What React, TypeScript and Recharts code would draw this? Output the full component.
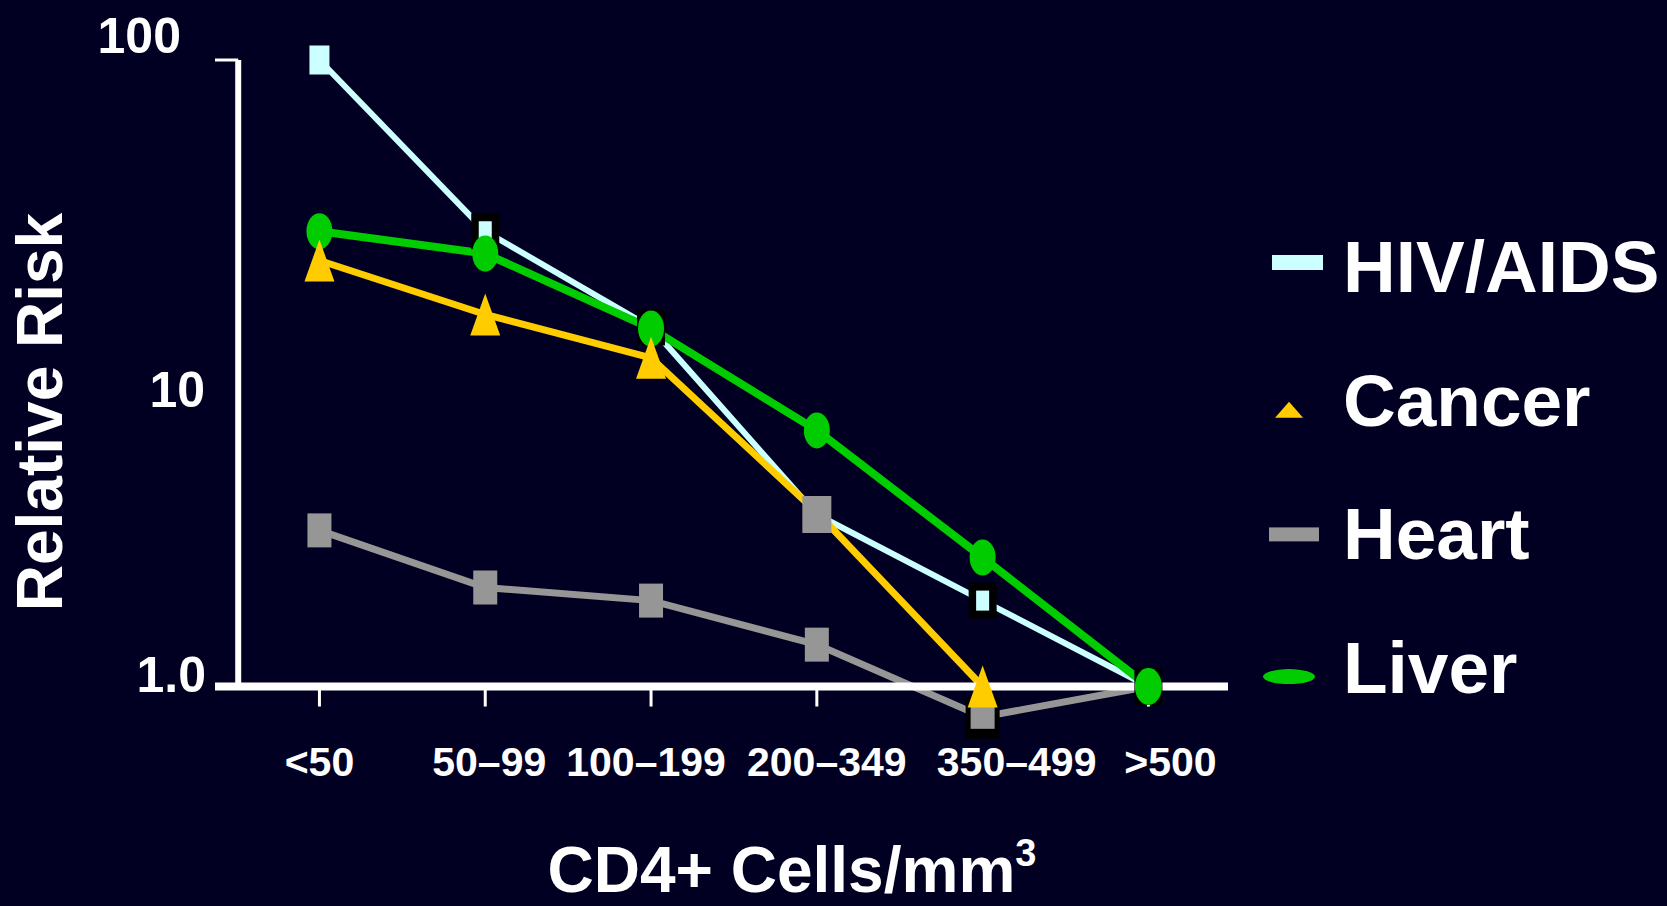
import React from 'react';
import { LineChart, Line, XAxis, YAxis, ReferenceLine, Legend, Label } from 'recharts';

const CATEGORIES = ['<50', '50–99', '100–199', '200–349', '350–499', '>500'];
const HIV_AIDS = [100, 28.4, 14.0, 3.54, 1.88, 1.0];
const CANCER = [22.9, 15.4, 11.2, 3.6, 1.0, 1.0];
const HEART = [3.15, 2.07, 1.88, 1.36, 0.8, 1.0];
const LIVER = [28.4, 24.1, 13.9, 6.57, 2.58, 1.0];
const Y_TICKS = [1, 10, 100];
const Y_TICK_LABELS = ['1.0', '10', '100'];

const SERIES = [
  { key: 'hiv', name: 'HIV/AIDS', color: '#CCFFFF' },
  { key: 'cancer', name: 'Cancer', color: '#FFCC00' },
  { key: 'heart', name: 'Heart', color: '#969696' },
  { key: 'liver', name: 'Liver', color: '#00CC00' },
];

const data = CATEGORIES.map((c, i) => ({
  idx: i,
  cat: c,
  hiv: HIV_AIDS[i],
  cancer: CANCER[i],
  heart: HEART[i],
  liver: LIVER[i],
}));

const FONT = '"Liberation Sans", Arial, Helvetica, sans-serif';
const BG = '#010023';
const X_MIN = -0.63;
const X_MAX = 5.48;
const Y_AXIS_X = -0.49;
const TICK_END = 0.863;

const X_LABEL_NUDGE = [0, 4, -5, 10, 34, 22];
const Y_LABEL_NUDGE: Record<number, { dx: number; dy: number }> = {
  1: { dx: 0, dy: -12 },
  10: { dx: -1, dy: 16 },
  100: { dx: -25, dy: -25 },
};

const XTick = (props: any) => {
  const { x, y, payload } = props;
  const i = payload.value as number;
  return (
    <text
      x={x + (X_LABEL_NUDGE[i] || 0)}
      y={y}
      dy="0.71em"
      textAnchor="middle"
      fill="#FFFFFF"
      fontFamily={FONT}
      fontWeight="bold"
      fontSize={41}
    >
      {CATEGORIES[i]}
    </text>
  );
};

const YTick = (props: any) => {
  const { x, y, payload } = props;
  const v = payload.value as number;
  const n = Y_LABEL_NUDGE[v] || { dx: 0, dy: 0 };
  const label = Y_TICK_LABELS[Y_TICKS.indexOf(v)];
  return (
    <text
      x={x + n.dx}
      y={y + n.dy}
      dy="0.355em"
      textAnchor="end"
      fill="#FFFFFF"
      fontFamily={FONT}
      fontWeight="bold"
      fontSize={50}
    >
      {label}
    </text>
  );
};

const LAST = CATEGORIES.length - 1;

const HivDot = (props: any) => {
  const { cx, cy, index } = props;
  if (cx == null || cy == null) return <g key={`hiv-${index}`} />;
  if (index === 0) {
    return <rect key={`hiv-${index}`} x={cx - 10} y={cy - 14.5} width={20} height={29} fill="#CCFFFF" />;
  }
  if (index === 3) {
    return <rect key={`hiv-${index}`} x={cx - 14.5} y={cy - 18.5} width={29} height={37} fill="#969696" />;
  }
  return (
    <g key={`hiv-${index}`}>
      <rect x={cx - 14} y={cy - 18} width={28} height={36} fill="#000000" />
      <rect x={cx - 6.5} y={cy - 10} width={13} height={20} fill="#CCFFFF" />
    </g>
  );
};

const CancerDot = (props: any) => {
  const { cx, cy, index } = props;
  if (cx == null || cy == null || index === 3 || index === LAST) return <g key={`cancer-${index}`} />;
  return (
    <polygon
      key={`cancer-${index}`}
      points={`${cx - 15},${cy + 21} ${cx + 15},${cy + 21} ${cx},${cy - 21}`}
      fill="#FFCC00"
    />
  );
};

const HeartDot = (props: any) => {
  const { cx, cy, index } = props;
  if (cx == null || cy == null || index === LAST) return <g key={`heart-${index}`} />;
  if (index === 4) {
    return (
      <g key={`heart-${index}`}>
        <rect x={cx - 17} y={cy - 20} width={34} height={42} fill="#000000" />
        <rect x={cx - 12} y={cy - 12} width={24} height={24} fill="#969696" />
      </g>
    );
  }
  return <rect key={`heart-${index}`} x={cx - 12} y={cy - 17} width={24} height={34} fill="#969696" />;
};

const LiverDot = (props: any) => {
  const { cx, cy, index } = props;
  if (cx == null || cy == null) return <g key={`liver-${index}`} />;
  if (index === LAST) {
    return (
      <g key={`liver-${index}`}>
        <rect x={cx - 13.5} y={cy - 18.5} width={27} height={37} fill="#000000" />
        <ellipse cx={cx} cy={cy} rx={13.5} ry={18.5} fill="#00CC00" />
      </g>
    );
  }
  return <ellipse key={`liver-${index}`} cx={cx} cy={cy} rx={13} ry={18} fill="#00CC00" />;
};

const LegendIcon = ({ k, color, b }: { k: string; color: string; b: number }) => {
  if (k === 'hiv') return <rect x={32} y={b - 37} width={51} height={15} fill={color} />;
  if (k === 'cancer')
    return <polygon points={`35,${b - 8} 63,${b - 8} 49,${b - 24}`} fill={color} />;
  if (k === 'heart') return <rect x={29} y={b - 32} width={50} height={14} fill={color} />;
  return <ellipse cx={49} cy={b - 16.5} rx={26} ry={7.5} fill={color} />;
};

const LegendContent = (props: any) => {
  const payload: any[] = props.payload || [];
  return (
    <svg width={427} height={500} style={{ display: 'block' }}>
      {SERIES.map((s, i) => {
        const entry = payload.find((p) => p.dataKey === s.key);
        const b = 72 + i * 133.7;
        return (
          <g key={s.key}>
            <LegendIcon k={s.key} color={entry?.color || s.color} b={b} />
            <text x={103} y={b} fill="#FFFFFF" fontFamily={FONT} fontWeight="bold" fontSize={73}>
              {entry?.value || s.name}
            </text>
          </g>
        );
      })}
    </svg>
  );
};

const XTitle = () => (
  <text x={792} y={892} textAnchor="middle" fill="#FFFFFF" fontFamily={FONT} fontWeight="bold" fontSize={64}>
    CD4+ Cells/mm
    <tspan dy={-26} fontSize={38}>3</tspan>
  </text>
);

const YTitle = () => (
  <text
    x={0}
    y={0}
    transform="translate(62,412) rotate(-90)"
    textAnchor="middle"
    fill="#FFFFFF"
    fontFamily={FONT}
    fontWeight="bold"
    fontSize={64}
  >
    Relative Risk
  </text>
);

export default function App() {
  return (
    <div style={{ position: 'absolute', left: 0, top: 0, width: 1667, height: 906, background: BG, overflow: 'hidden' }}>
      <LineChart width={1667} height={906} data={data} margin={{ top: 60, right: 439, bottom: 111, left: 0 }}>
        <XAxis
          type="number"
          dataKey="idx"
          domain={[X_MIN, X_MAX]}
          ticks={CATEGORIES.map((_, i) => i)}
          axisLine={false}
          tickLine={false}
          tickSize={0}
          tickMargin={12}
          height={60}
          tick={<XTick />}
          interval={0}
        >
          <Label content={<XTitle />} />
        </XAxis>
        <YAxis
          scale="log"
          domain={[0.7, 100]}
          ticks={Y_TICKS}
          axisLine={false}
          tickLine={false}
          tickSize={0}
          tickMargin={9}
          width={215}
          tick={<YTick />}
          interval={0}
        >
          <Label content={<YTitle />} />
        </YAxis>
        {CATEGORIES.map((c, i) => (
          <ReferenceLine
            key={`tick-${c}`}
            segment={[
              { x: i, y: 1 },
              { x: i, y: TICK_END },
            ]}
            stroke="#FFFFFF"
            strokeWidth={3}
          />
        ))}
        <ReferenceLine
          segment={[
            { x: Y_AXIS_X, y: 1 },
            { x: Y_AXIS_X, y: 100 },
          ]}
          stroke="#FFFFFF"
          strokeWidth={6}
        />
        <ReferenceLine
          segment={[
            { x: X_MIN, y: 100 },
            { x: Y_AXIS_X, y: 100 },
          ]}
          stroke="#FFFFFF"
          strokeWidth={3}
        />
        <Line
          dataKey="heart"
          name="Heart"
          stroke="#969696"
          strokeWidth={7}
          dot={(p: any) => <HeartDot {...p} />}
          activeDot={false}
          isAnimationActive={false}
        />
        <Line
          dataKey="hiv"
          name="HIV/AIDS"
          stroke="#CCFFFF"
          strokeWidth={6}
          dot={(p: any) => <HivDot {...p} />}
          activeDot={false}
          isAnimationActive={false}
        />
        <Line
          dataKey="liver"
          name="Liver"
          stroke="#00CC00"
          strokeWidth={8}
          dot={(p: any) => <LiverDot {...p} />}
          activeDot={false}
          isAnimationActive={false}
        />
        <Line
          dataKey="cancer"
          name="Cancer"
          stroke="#FFCC00"
          strokeWidth={7}
          dot={(p: any) => <CancerDot {...p} />}
          activeDot={false}
          isAnimationActive={false}
        />
        <ReferenceLine y={1} stroke="#FFFFFF" strokeWidth={8} />
        <Legend
          layout="horizontal"
          verticalAlign="middle"
          align="center"
          content={<LegendContent />}
          wrapperStyle={{ left: 1240, top: 220, width: 427, height: 500 }}
        />
      </LineChart>
    </div>
  );
}
